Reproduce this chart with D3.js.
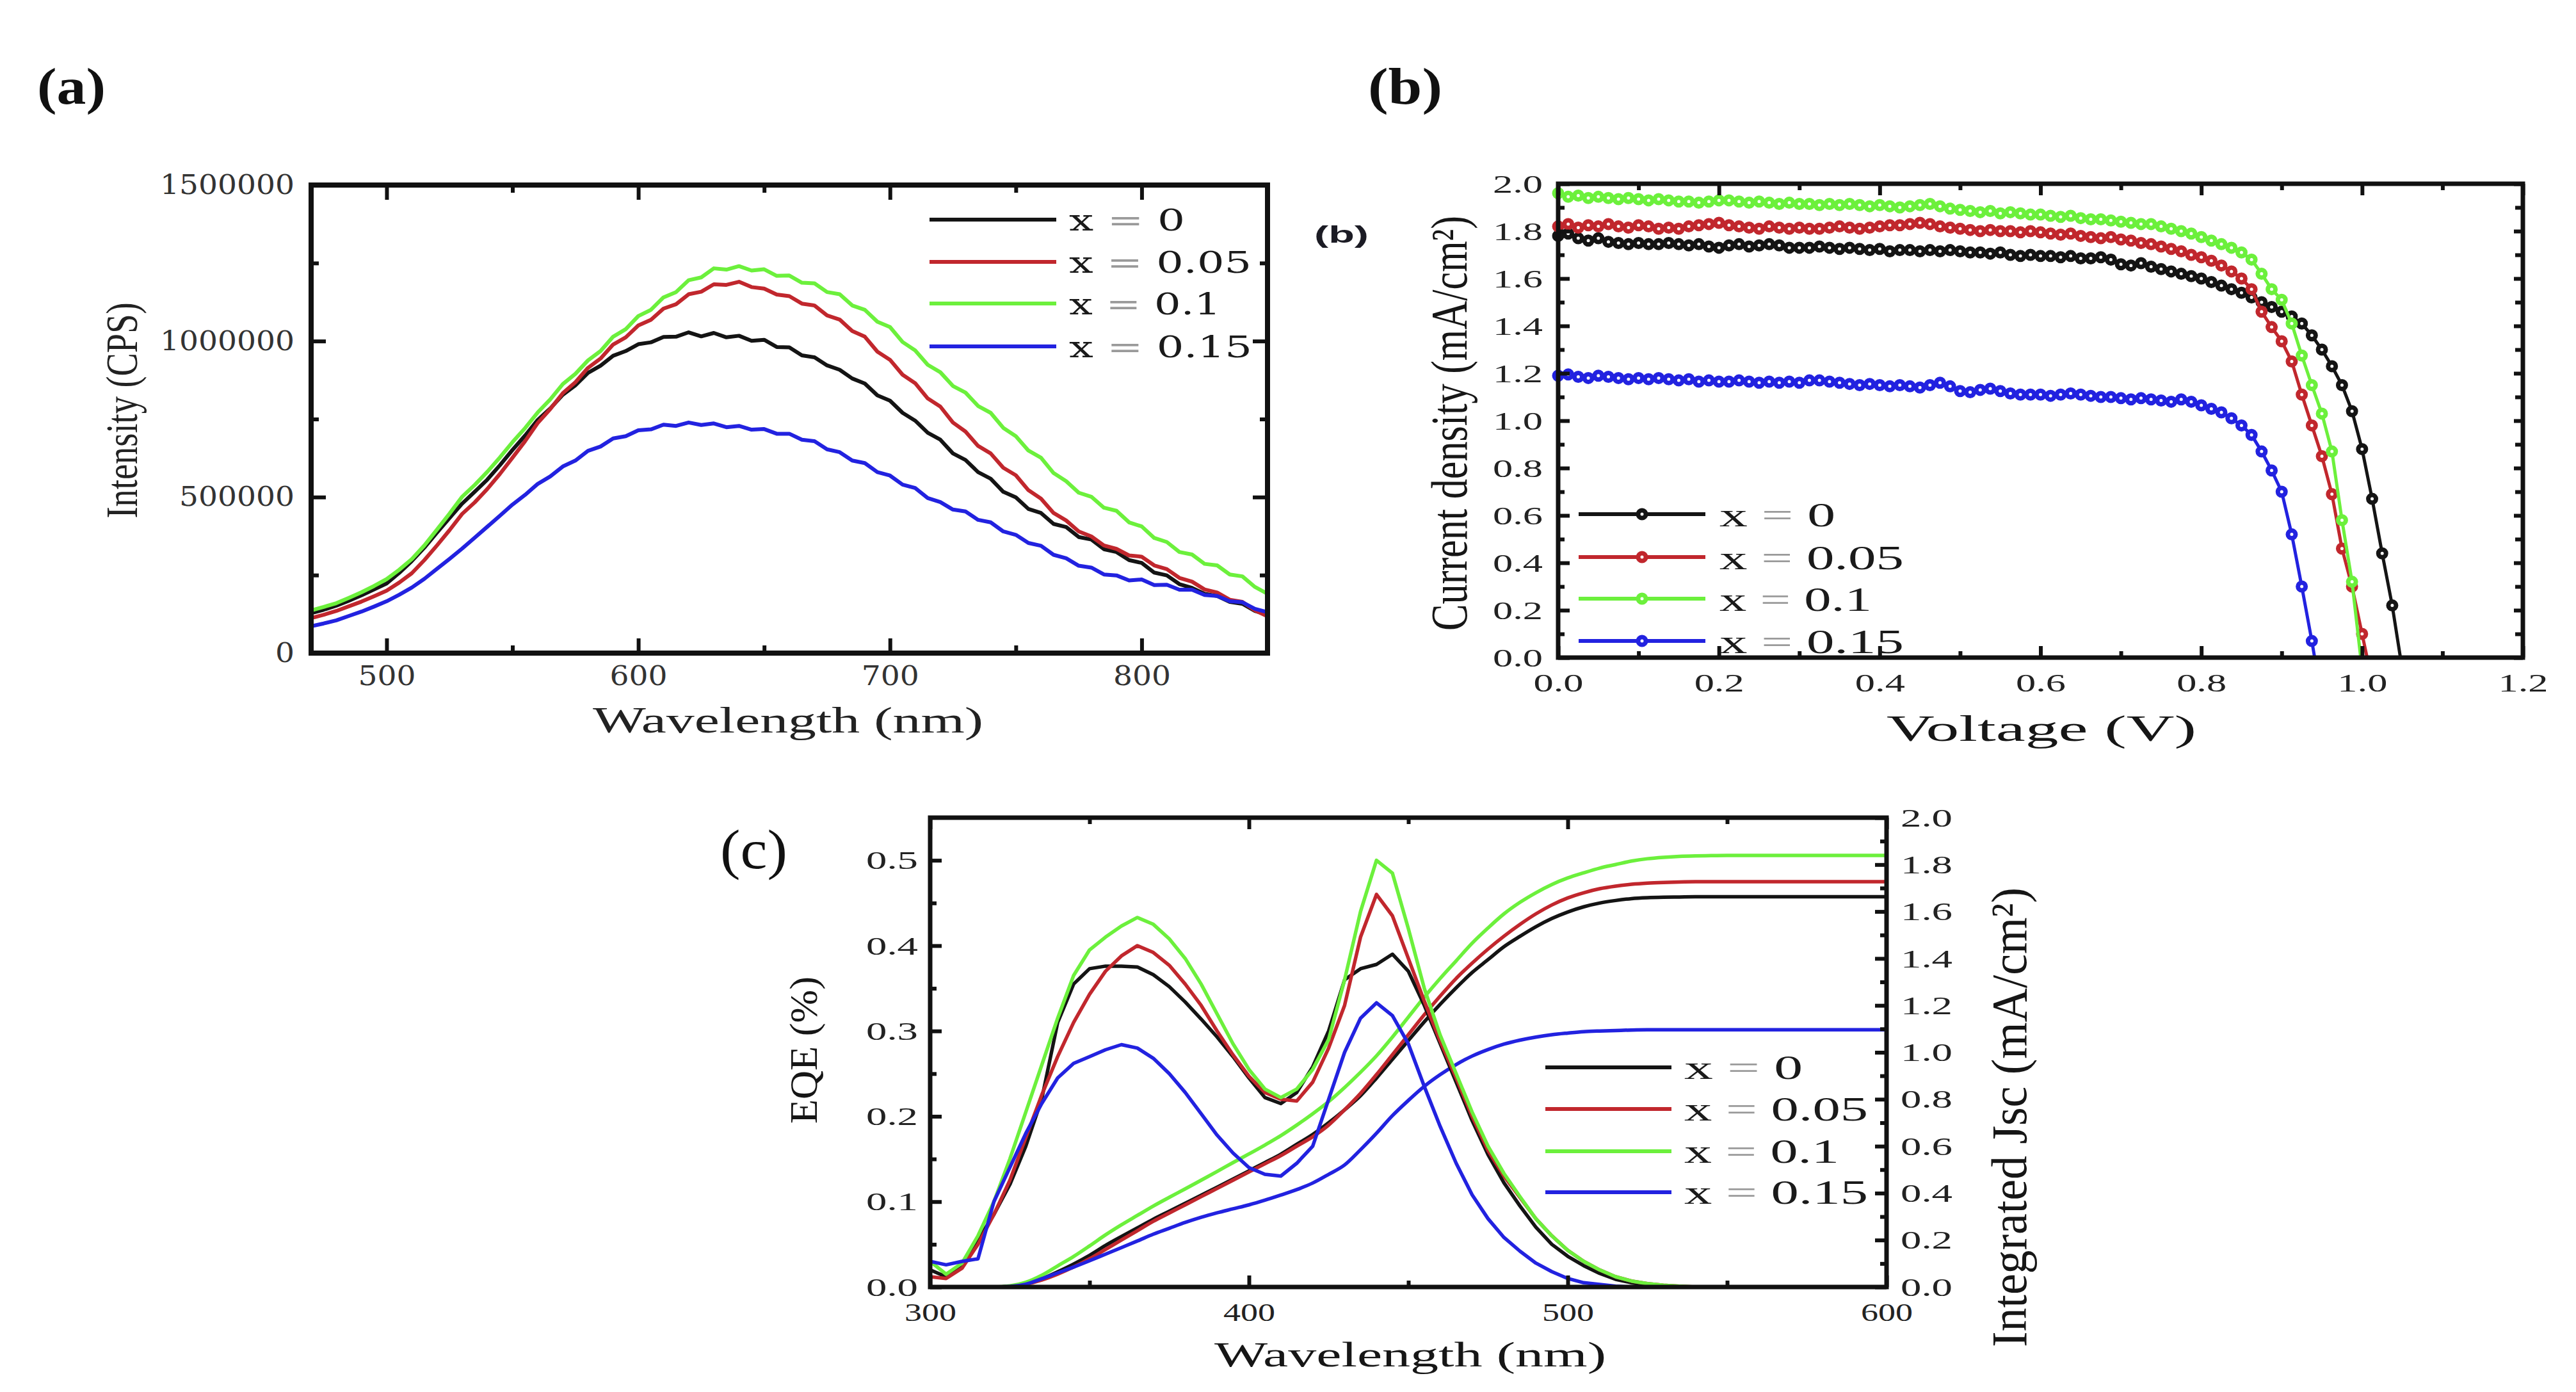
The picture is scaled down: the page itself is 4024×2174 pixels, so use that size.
<!DOCTYPE html>
<html><head><meta charset="utf-8">
<script src="https://cdn.jsdelivr.net/npm/d3@7"></script>
<style>body{margin:0;background:#fff}svg{display:block}</style>
</head><body>
<svg id="fig" width="4024" height="2174"></svg>
<script>
// ---------------- DATA ----------------
const seriesLabels = ["x = 0", "x = 0.05", "x = 0.1", "x = 0.15"];
const seriesColors = ["#141414", "#c1272d", "#6cf03c", "#2222e0"];

// (a) photoluminescence, intensity in thousands of CPS
const plWavelength = [470,475,480,485,490,495,500,505,510,515,520,525,530,535,540,545,550,555,560,565,570,575,580,585,590,595,600,605,610,615,620,625,630,635,640,645,650,655,660,665,670,675,680,685,690,695,700,705,710,715,720,725,730,735,740,745,750,755,760,765,770,775,780,785,790,795,800,805,810,815,820,825,830,835,840,845,850];
const plX0 = [128,139,152,168,185,204,223,257,295,338,386,433,479,517,556,602,651,697,747,784,828,858,898,921,953,968,990,996,1013,1014,1028,1015,1026,1012,1017,1001,1004,981,980,954,948,922,908,880,864,826,809,770,745,706,684,640,619,580,559,517,499,462,449,414,404,372,364,333,324,298,289,258,249,221,209,190,183,164,158,135,123];
const plX005 = [112,123,135,150,165,182,200,226,256,298,345,394,446,483,526,574,626,679,737,782,833,868,914,944,989,1012,1050,1068,1104,1118,1150,1158,1182,1180,1190,1173,1168,1149,1144,1120,1114,1082,1069,1032,1014,966,940,892,865,816,790,739,710,664,640,594,570,522,495,449,425,390,374,345,334,313,309,281,269,241,229,204,194,171,164,137,118];
const plX01 = [137,148,160,177,195,215,237,267,301,345,396,447,501,539,581,627,676,721,771,813,862,895,938,968,1014,1038,1080,1100,1140,1157,1195,1204,1233,1229,1240,1226,1230,1209,1210,1187,1185,1157,1150,1114,1100,1062,1045,997,970,924,900,856,835,792,770,722,695,649,626,577,551,514,501,466,456,419,406,369,356,324,316,286,281,252,246,212,190];
const plX015 = [86,95,105,119,133,149,166,187,210,238,270,302,335,370,405,440,476,507,542,566,598,617,648,662,688,695,714,717,732,728,739,731,736,724,728,716,718,703,703,684,679,653,644,617,609,580,569,540,529,497,484,460,454,427,419,390,379,353,344,315,304,280,274,252,249,233,236,218,219,203,203,186,183,166,163,142,131];
const plXTicks = [500, 600, 700, 800];
const plXMinor = [550, 650, 750];
const plYTicks = [0, 500, 1000, 1500];
const plYMinor = [250, 750, 1250];

// (b) J-V curves
const jvVoltage = [0,0.0125,0.025,0.0375,0.05,0.0625,0.075,0.0875,0.1,0.1125,0.125,0.1375,0.15,0.1625,0.175,0.1875,0.2,0.2125,0.225,0.2375,0.25,0.2625,0.275,0.2875,0.3,0.3125,0.325,0.3375,0.35,0.3625,0.375,0.3875,0.4,0.4125,0.425,0.4375,0.45,0.4625,0.475,0.4875,0.5,0.5125,0.525,0.5375,0.55,0.5625,0.575,0.5875,0.6,0.6125,0.625,0.6375,0.65,0.6625,0.675,0.6875,0.7,0.7125,0.725,0.7375,0.75,0.7625,0.775,0.7875,0.8,0.8125,0.825,0.8375,0.85,0.8625,0.875,0.8875,0.9,0.9125,0.925,0.9375,0.95,0.9625,0.975,0.9875,1.0,1.0125,1.025,1.0375,1.05];
const jvX0 = [1.78,1.79,1.77,1.76,1.77,1.755,1.75,1.745,1.75,1.745,1.745,1.75,1.745,1.74,1.745,1.735,1.73,1.74,1.745,1.735,1.74,1.745,1.74,1.73,1.73,1.73,1.735,1.73,1.725,1.73,1.725,1.72,1.725,1.715,1.72,1.72,1.715,1.72,1.715,1.72,1.715,1.71,1.71,1.705,1.71,1.70,1.695,1.70,1.695,1.695,1.69,1.695,1.685,1.685,1.69,1.68,1.66,1.655,1.665,1.65,1.64,1.63,1.62,1.61,1.60,1.585,1.57,1.555,1.54,1.52,1.50,1.48,1.46,1.44,1.41,1.36,1.30,1.23,1.15,1.04,0.88,0.67,0.44,0.22,-0.05];
const jvX005 = [1.82,1.83,1.815,1.825,1.82,1.83,1.82,1.815,1.825,1.82,1.81,1.815,1.81,1.82,1.825,1.83,1.835,1.825,1.82,1.815,1.81,1.82,1.815,1.81,1.815,1.81,1.81,1.815,1.82,1.815,1.81,1.815,1.82,1.825,1.825,1.83,1.835,1.83,1.82,1.815,1.81,1.805,1.80,1.805,1.80,1.80,1.795,1.80,1.795,1.79,1.785,1.79,1.78,1.775,1.77,1.775,1.765,1.76,1.75,1.745,1.735,1.725,1.715,1.70,1.69,1.675,1.655,1.63,1.60,1.555,1.46,1.395,1.335,1.25,1.11,0.98,0.85,0.69,0.46,0.30,0.10,-0.10];
const jvX01 = [1.96,1.945,1.95,1.94,1.945,1.94,1.935,1.94,1.935,1.93,1.935,1.93,1.925,1.925,1.92,1.925,1.93,1.93,1.925,1.92,1.925,1.92,1.915,1.92,1.915,1.915,1.91,1.915,1.91,1.915,1.91,1.905,1.91,1.905,1.90,1.905,1.91,1.915,1.905,1.895,1.89,1.885,1.88,1.885,1.875,1.88,1.875,1.87,1.87,1.865,1.86,1.865,1.855,1.85,1.85,1.845,1.84,1.835,1.83,1.83,1.82,1.81,1.80,1.79,1.775,1.76,1.745,1.73,1.71,1.68,1.62,1.555,1.51,1.41,1.275,1.15,1.03,0.87,0.58,0.32,-0.05];
const jvX015 = [1.19,1.195,1.185,1.18,1.19,1.185,1.18,1.175,1.18,1.175,1.18,1.175,1.17,1.175,1.165,1.17,1.165,1.165,1.17,1.165,1.16,1.165,1.16,1.165,1.16,1.17,1.17,1.165,1.16,1.155,1.15,1.155,1.15,1.145,1.15,1.145,1.14,1.15,1.16,1.145,1.125,1.12,1.13,1.135,1.125,1.115,1.11,1.11,1.11,1.105,1.11,1.115,1.11,1.105,1.10,1.10,1.095,1.09,1.095,1.09,1.085,1.08,1.09,1.08,1.065,1.05,1.035,1.01,0.98,0.94,0.87,0.79,0.70,0.52,0.30,0.07,-0.18];
const jvXTicks = [0, 0.2, 0.4, 0.6, 0.8, 1.0, 1.2];
const jvXMinor = [0.1, 0.3, 0.5, 0.7, 0.9, 1.1];
const jvYTicks = [0, 0.2, 0.4, 0.6, 0.8, 1.0, 1.2, 1.4, 1.6, 1.8, 2.0];
const jvYMinor = [0.1, 0.3, 0.5, 0.7, 0.9, 1.1, 1.3, 1.5, 1.7, 1.9];

// (c) EQE and integrated Jsc
const eqeWavelength = [300,305,310,315,320,325,330,335,340,345,350,355,360,365,370,375,380,385,390,395,400,405,410,415,420,425,430,435,440,445,450,455,460,465,470,475,480,485,490,495,500,505,510,515,520,525,530,535,540,545,550,555,560,565,570,575,580,585,590,595,600];
const eqeX0 = [0.020,0.012,0.025,0.055,0.085,0.120,0.165,0.220,0.310,0.355,0.373,0.376,0.376,0.375,0.366,0.352,0.334,0.314,0.293,0.270,0.245,0.222,0.215,0.228,0.258,0.300,0.360,0.373,0.378,0.390,0.370,0.330,0.285,0.240,0.195,0.155,0.122,0.095,0.070,0.050,0.036,0.025,0.016,0.009,0.005,0.002,0.001,0,0,0,0,0,0,0,0,0,0,0,0,0,0];
const eqeX005 = [0.012,0.010,0.022,0.050,0.085,0.125,0.175,0.225,0.270,0.310,0.343,0.370,0.388,0.400,0.392,0.377,0.355,0.330,0.300,0.272,0.247,0.228,0.220,0.218,0.240,0.280,0.330,0.410,0.460,0.435,0.385,0.335,0.288,0.245,0.200,0.160,0.130,0.105,0.080,0.060,0.043,0.030,0.020,0.012,0.007,0.004,0.002,0.001,0,0,0,0,0,0,0,0,0,0,0,0,0];
const eqeX01 = [0.030,0.015,0.028,0.060,0.100,0.150,0.205,0.260,0.315,0.365,0.395,0.410,0.423,0.433,0.425,0.408,0.385,0.355,0.320,0.285,0.255,0.232,0.222,0.232,0.255,0.290,0.360,0.440,0.500,0.485,0.420,0.350,0.295,0.250,0.205,0.165,0.133,0.106,0.080,0.060,0.043,0.030,0.020,0.012,0.007,0.004,0.002,0.001,0,0,0,0,0,0,0,0,0,0,0,0,0];
const eqeX015 = [0.030,0.026,0.030,0.033,0.100,0.140,0.180,0.215,0.245,0.262,0.270,0.278,0.284,0.280,0.268,0.250,0.228,0.203,0.178,0.157,0.140,0.132,0.130,0.145,0.165,0.220,0.275,0.315,0.333,0.318,0.285,0.235,0.188,0.145,0.108,0.080,0.058,0.042,0.028,0.018,0.010,0.005,0.003,0.001,0,0,0,0,0,0,0,0,0,0,0,0,0,0,0,0,0];
const jscX0 = [0,0,0,0,0,0.003,0.015,0.035,0.065,0.098,0.135,0.177,0.215,0.252,0.289,0.323,0.357,0.391,0.425,0.460,0.495,0.530,0.566,0.608,0.650,0.700,0.755,0.815,0.890,0.970,1.050,1.130,1.205,1.275,1.340,1.395,1.450,1.494,1.535,1.570,1.598,1.620,1.636,1.647,1.655,1.659,1.661,1.662,1.663,1.663,1.663,1.663,1.663,1.663,1.663,1.663,1.663,1.663,1.663,1.663,1.663];
const jscX005 = [0,0,0,0,0,0.002,0.012,0.030,0.055,0.085,0.120,0.160,0.200,0.240,0.280,0.315,0.350,0.385,0.420,0.455,0.490,0.525,0.560,0.600,0.640,0.690,0.755,0.825,0.905,0.990,1.075,1.160,1.240,1.315,1.380,1.440,1.495,1.545,1.590,1.628,1.658,1.680,1.697,1.708,1.716,1.721,1.724,1.726,1.727,1.727,1.727,1.727,1.727,1.727,1.727,1.727,1.727,1.727,1.727,1.727,1.727];
const jscX01 = [0,0,0,0,0,0.005,0.020,0.050,0.090,0.130,0.175,0.222,0.265,0.305,0.345,0.382,0.418,0.455,0.492,0.530,0.567,0.605,0.645,0.690,0.738,0.790,0.850,0.915,0.985,1.065,1.150,1.235,1.315,1.390,1.465,1.530,1.590,1.639,1.680,1.715,1.743,1.765,1.785,1.800,1.815,1.825,1.831,1.835,1.837,1.838,1.839,1.839,1.839,1.839,1.839,1.839,1.839,1.839,1.839,1.839,1.839];
const jscX015 = [0,0,0,0,0,0.002,0.012,0.035,0.060,0.085,0.112,0.140,0.168,0.196,0.225,0.250,0.275,0.297,0.316,0.333,0.350,0.370,0.392,0.415,0.443,0.480,0.520,0.585,0.655,0.730,0.795,0.855,0.905,0.948,0.984,1.012,1.035,1.052,1.065,1.075,1.082,1.088,1.091,1.093,1.095,1.096,1.096,1.096,1.096,1.096,1.096,1.096,1.096,1.096,1.096,1.096,1.096,1.096,1.096,1.096,1.096];
const eqeXTicks = [300, 400, 500, 600];
const eqeXMinor = [350, 450, 550];
const eqeYTicks = [0, 0.1, 0.2, 0.3, 0.4, 0.5];
const eqeYMinor = [0.05, 0.15, 0.25, 0.35, 0.45];
const jscYTicks = [0, 0.2, 0.4, 0.6, 0.8, 1.0, 1.2, 1.4, 1.6, 1.8, 2.0];
const jscYMinor = [0.1, 0.3, 0.5, 0.7, 0.9, 1.1, 1.3, 1.5, 1.7, 1.9];

// ---------------- DRAWING ----------------
const SERIF = "'Liberation Serif','Times New Roman',serif";
const BOOK = "'DejaVu Serif',serif";
const SANS = "'Liberation Sans',Arial,sans-serif";
const svg = d3.select("#fig");
const defs = svg.append("defs");

function txt(g, s, o) {
  const t = g.append("text").attr("x", o.x).attr("y", o.y)
    .attr("font-family", o.ff || SERIF).attr("font-size", o.fs)
    .attr("fill", o.fill || "#161616").attr("text-anchor", o.anchor || "start");
  if (o.fw) t.attr("font-weight", o.fw);
  if (o.rot) t.attr("transform", `rotate(-90 ${o.x} ${o.y})`);
  if (o.len) t.attr("textLength", o.len).attr("lengthAdjust", "spacingAndGlyphs");
  t.text(s);
  return t;
}

function axis(g, orient, scale, at, values, len, opt) {
  opt = opt || {};
  const gen = {bottom: d3.axisBottom, top: d3.axisTop, left: d3.axisLeft, right: d3.axisRight}[orient](scale)
    .tickValues(values).tickSizeInner(-len).tickSizeOuter(0).tickPadding(opt.pad || 0)
    .tickFormat(opt.fmt ? opt.fmt : () => "");
  const horiz = orient === "bottom" || orient === "top";
  const a = g.append("g").attr("transform", horiz ? `translate(0,${at})` : `translate(${at},0)`).call(gen);
  a.select(".domain").remove();
  a.selectAll(".tick line").attr("stroke", "#111").attr("stroke-width", opt.tw || 6);
  if (opt.fmt) {
    a.selectAll(".tick text").attr("font-family", opt.ff).attr("font-size", opt.fs).attr("fill", opt.color)
      .attr("textLength", d => opt.fmt(d).length * opt.cw).attr("lengthAdjust", "spacingAndGlyphs");
  }
  return a;
}

function clip(id, x0, y0, x1, y1) {
  defs.append("clipPath").attr("id", id).append("rect")
    .attr("x", x0).attr("y", y0).attr("width", x1 - x0).attr("height", y1 - y0);
}

function legendText(g, label, x, y, fs, len, ff) {
  const parts = label.split(" = ");
  const t = g.append("text").attr("x", x).attr("y", y).attr("font-family", ff).attr("font-size", fs)
    .attr("fill", "#1a1a1a").attr("textLength", len).attr("lengthAdjust", "spacingAndGlyphs");
  t.append("tspan").text(parts[0] + " ");
  t.append("tspan").attr("fill", "#9a9a9a").text("=");
  t.append("tspan").text(" " + parts[1]);
}

// ===== Panel (a) =====
{
  const L = 486, R = 1980, T = 289, B = 1020;
  const g = svg.append("g");
  const x = d3.scaleLinear().domain([470, 850]).range([L, R]);
  const y = d3.scaleLinear().domain([0, 1500]).range([B, T]);
  clip("clipA", L, T, R, B);
  const series = [plX0, plX005, plX01, plX015];
  const line = d3.line().x((d, i) => x(plWavelength[i])).y(d => y(d));
  const pg = g.append("g").attr("clip-path", "url(#clipA)");
  [0, 1, 3, 2].forEach(k => {
    pg.append("path").datum(series[k]).attr("d", line).attr("fill", "none")
      .attr("stroke", seriesColors[k]).attr("stroke-width", 6).attr("stroke-linejoin", "round");
  });
  const fmtY = d => String(d * 1000);
  const fmtX = d => String(d);
  axis(g, "bottom", x, B, plXMinor, 12);
  axis(g, "bottom", x, B, plXTicks, 23, {fmt: fmtX, pad: 20, ff: BOOK, fs: 42, color: "#333", cw: 30});
  axis(g, "top", x, T, plXMinor, 12);
  axis(g, "top", x, T, plXTicks, 23);
  axis(g, "left", y, L, plYMinor, 12);
  axis(g, "left", y, L, plYTicks, 23, {fmt: fmtY, pad: 26, ff: BOOK, fs: 42, color: "#333", cw: 30});
  axis(g, "right", y, R, plYMinor, 12);
  axis(g, "right", y, R, plYTicks, 23);
  g.append("rect").attr("x", L).attr("y", T).attr("width", R - L).attr("height", B - T)
    .attr("fill", "none").attr("stroke", "#111").attr("stroke-width", 8);
  // legend
  const ly = [343, 409, 474, 541], lens = [181, 285, 237, 286];
  seriesLabels.forEach((s, k) => {
    g.append("line").attr("x1", 1452).attr("x2", 1650).attr("y1", ly[k]).attr("y2", ly[k])
      .attr("stroke", seriesColors[k]).attr("stroke-width", 6);
    legendText(g, s, 1670, ly[k] + 17, 46, lens[k], BOOK);
  });
  txt(g, "Wavelength (nm)", {x: 1231, y: 1144, fs: 56, anchor: "middle", len: 610, fill: "#222"});
  txt(g, "Intensity (CPS)", {x: 214, y: 641, fs: 70, anchor: "middle", len: 337, rot: true, fill: "#222"});
  txt(g, "(a)", {x: 58, y: 162, fs: 80, fw: "bold", len: 107, fill: "#111"});
}

// ===== Panel (b) =====
{
  const L = 2434, R = 3941, T = 287, B = 1027;
  const g = svg.append("g");
  const x = d3.scaleLinear().domain([0, 1.2]).range([L, R]);
  const y = d3.scaleLinear().domain([0, 2]).range([B, T]);
  clip("clipB", L - 14, T, R, B);
  const series = [jvX0, jvX005, jvX01, jvX015];
  const line = d3.line().x((d, i) => x(jvVoltage[i])).y(d => y(d));
  const pg = g.append("g").attr("clip-path", "url(#clipB)");
  [0, 1, 2, 3].forEach(k => {
    const sg = pg.append("g");
    sg.append("path").datum(series[k]).attr("d", line).attr("fill", "none")
      .attr("stroke", seriesColors[k]).attr("stroke-width", 5);
    sg.selectAll("circle").data(series[k]).join("circle")
      .attr("cx", (d, i) => x(jvVoltage[i])).attr("cy", d => y(d)).attr("r", 6)
      .attr("fill", "#fff").attr("stroke", seriesColors[k]).attr("stroke-width", 7);
  });
  const fmt = d3.format(".1f");
  axis(g, "bottom", x, B, jvXMinor, 10);
  axis(g, "bottom", x, B, jvXTicks, 18, {fmt, pad: 24, ff: SERIF, fs: 41, color: "#222", cw: 26});
  axis(g, "top", x, T, jvXMinor, 10);
  axis(g, "top", x, T, jvXTicks, 18);
  axis(g, "left", y, L, jvYMinor, 10);
  axis(g, "left", y, L, jvYTicks, 18, {fmt, pad: 24, ff: SERIF, fs: 41, color: "#222", cw: 26});
  axis(g, "right", y, R, jvYMinor, 12);
  axis(g, "right", y, R, jvYTicks, 14);
  g.append("rect").attr("x", L).attr("y", T).attr("width", R - L).attr("height", B - T)
    .attr("fill", "none").attr("stroke", "#111").attr("stroke-width", 7);
  // legend
  const ly = [803, 870, 935, 1001], lens = [181, 288, 238, 288];
  seriesLabels.forEach((s, k) => {
    g.append("line").attr("x1", 2466).attr("x2", 2664).attr("y1", ly[k]).attr("y2", ly[k])
      .attr("stroke", seriesColors[k]).attr("stroke-width", 6);
    g.append("circle").attr("cx", 2565).attr("cy", ly[k]).attr("r", 6)
      .attr("fill", "#fff").attr("stroke", seriesColors[k]).attr("stroke-width", 7);
    legendText(g, s, 2686, ly[k] + 19, 53, lens[k], SERIF);
  });
  txt(g, "Voltage (V)", {x: 3189, y: 1157, fs: 57, anchor: "middle", len: 484});
  txt(g, "Current density (mA/cm²)", {x: 2291, y: 661, fs: 80, anchor: "middle", len: 648, rot: true});
  txt(g, "(b)", {x: 2137, y: 162, fs: 80, fw: "bold", len: 116, fill: "#111"});
  txt(g, "(b)", {x: 2053, y: 379, fs: 36, fw: "bold", ff: SANS, len: 85, fill: "#1b1b24"});
}

// ===== Panel (c) =====
{
  const L = 1453, R = 2947, T = 1277, B = 2010;
  const g = svg.append("g");
  const x = d3.scaleLinear().domain([300, 600]).range([L, R]);
  const yL = d3.scaleLinear().domain([0, 0.55]).range([B, T]);
  const yR = d3.scaleLinear().domain([0, 2.0]).range([B, T]);
  clip("clipC", L, T, R, B);
  const eqe = [eqeX0, eqeX005, eqeX01, eqeX015];
  const jsc = [jscX0, jscX005, jscX01, jscX015];
  const lineE = d3.line().x((d, i) => x(eqeWavelength[i])).y(d => yL(d));
  const lineJ = d3.line().curve(d3.curveMonotoneX).x((d, i) => x(eqeWavelength[i])).y(d => yR(d));
  const pg = g.append("g").attr("clip-path", "url(#clipC)");
  [0, 1, 2, 3].forEach(k => {
    pg.append("path").datum(jsc[k]).attr("d", lineJ).attr("fill", "none")
      .attr("stroke", seriesColors[k]).attr("stroke-width", 5.5).attr("stroke-linejoin", "round");
  });
  [0, 1, 2, 3].forEach(k => {
    pg.append("path").datum(eqe[k]).attr("d", lineE).attr("fill", "none")
      .attr("stroke", seriesColors[k]).attr("stroke-width", 5.5).attr("stroke-linejoin", "round");
  });
  const fmt = d3.format(".1f");
  axis(g, "bottom", x, B, eqeXMinor, 10);
  axis(g, "bottom", x, B, eqeXTicks, 18, {fmt: d => String(d), pad: 24, ff: SERIF, fs: 41, color: "#222", cw: 27});
  axis(g, "top", x, T, eqeXMinor, 10);
  axis(g, "top", x, T, eqeXTicks, 18);
  axis(g, "left", yL, L, eqeYMinor, 10);
  axis(g, "left", yL, L, eqeYTicks, 18, {fmt, pad: 19, ff: SERIF, fs: 41, color: "#222", cw: 27});
  axis(g, "right", yR, R, jscYMinor, 10);
  axis(g, "right", yR, R, jscYTicks, 18, {fmt, pad: 22, ff: SERIF, fs: 41, color: "#222", cw: 27});
  g.append("rect").attr("x", L).attr("y", T).attr("width", R - L).attr("height", B - T)
    .attr("fill", "none").attr("stroke", "#111").attr("stroke-width", 7);
  // legend
  const ly = [1667, 1732, 1798, 1862], lens = [185, 287, 242, 287];
  seriesLabels.forEach((s, k) => {
    g.append("line").attr("x1", 2414).attr("x2", 2611).attr("y1", ly[k]).attr("y2", ly[k])
      .attr("stroke", seriesColors[k]).attr("stroke-width", 6);
    legendText(g, s, 2631, ly[k] + 18, 53, lens[k], SERIF);
  });
  txt(g, "Wavelength (nm)", {x: 2203, y: 2134, fs: 55, anchor: "middle", len: 612});
  txt(g, "EQE (%)", {x: 1276, y: 1640, fs: 62, anchor: "middle", len: 230, rot: true});
  txt(g, "Integrated Jsc (mA/cm²)", {x: 3165, y: 1745, fs: 78, anchor: "middle", len: 718, rot: true});
  txt(g, "(c)", {x: 1125, y: 1356, fs: 86, len: 105, fill: "#111"});
}
</script>
</body></html>
